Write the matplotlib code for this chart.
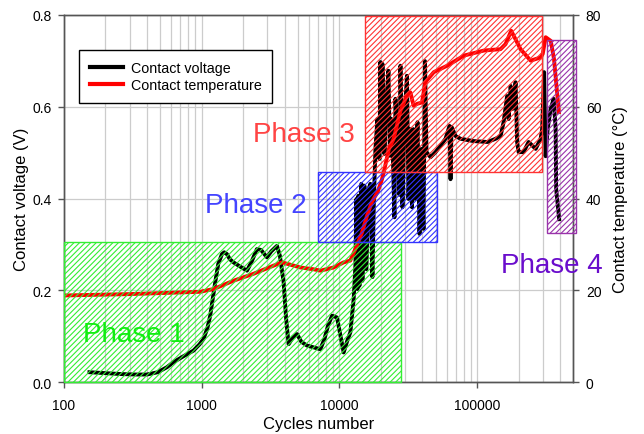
import numpy as np
import matplotlib
matplotlib.use('Agg')
import matplotlib.pyplot as plt
from matplotlib.patches import Rectangle

plt.rcParams['font.family'] = ['Liberation Sans', 'DejaVu Sans']
plt.rcParams['hatch.linewidth'] = 0.8

# contact voltage (V) vs cycles
volt_cycles = [153, 200, 260, 330, 400, 480, 560, 624, 740, 871, 960, 1030, 1100, 1153, 1200,
               1254, 1320, 1403, 1460, 1525, 1600, 1703, 1900, 2133, 2300, 2518, 2700, 2978,
               3200, 3524, 3700, 3936, 4100, 4278, 4600, 4920, 5300, 5821, 6500, 7278, 7800,
               8300, 8851, 9615, 10200, 10740, 11400, 12020, 12300, 12700,
               13070, 13290, 13520, 13750, 13980, 14450, 14700, 15190, 15720, 16250, 16800,
               17380, 17820, 18270, 18890, 19540, 19870, 20210, 20550, 21250, 21970, 22720,
               23300, 23890, 24490, 25120, 25540, 26410, 27310, 27770, 28720, 29700, 30970,
               31760, 32840, 33680, 34530, 35710, 36930, 38190, 39490, 40830, 41870, 42930,
               45910, 49920, 54290, 59020, 63100, 64170, 65260, 69790, 75860, 94290, 119260,
               136280, 148240, 155850, 165300, 169500, 175300, 181200, 190500, 195400, 200400,
               217800, 236800, 266400, 289600, 296900, 307000, 314900, 325600, 342400, 360100,
               372300, 375400, 394800]
volt_values = [0.022, 0.020, 0.018, 0.017, 0.017, 0.022, 0.033, 0.044, 0.057, 0.069, 0.082,
               0.094, 0.118, 0.145, 0.180, 0.218, 0.258, 0.279, 0.283, 0.279, 0.268, 0.261,
               0.252, 0.243, 0.262, 0.290, 0.288, 0.272, 0.285, 0.297, 0.275, 0.218, 0.140,
               0.083, 0.098, 0.105, 0.088, 0.080, 0.076, 0.072, 0.095, 0.125, 0.145, 0.141,
               0.100, 0.065, 0.090, 0.109, 0.140, 0.181,
               0.253, 0.399, 0.203, 0.406, 0.210, 0.432, 0.221, 0.428, 0.246, 0.420, 0.432,
               0.229, 0.399, 0.508, 0.573, 0.486, 0.697, 0.508, 0.693, 0.497, 0.617, 0.678,
               0.493, 0.573, 0.486, 0.359, 0.617, 0.530, 0.408, 0.689, 0.381, 0.573, 0.667,
               0.399, 0.551, 0.381, 0.551, 0.399, 0.566, 0.323, 0.508, 0.334, 0.699, 0.501,
               0.490, 0.501, 0.515, 0.530, 0.558, 0.442, 0.556, 0.536, 0.530, 0.525, 0.523,
               0.530, 0.536, 0.566, 0.623, 0.573, 0.645, 0.595, 0.653, 0.523, 0.501,
               0.501, 0.523, 0.508, 0.530, 0.551, 0.675, 0.492, 0.551, 0.595, 0.617,
               0.551, 0.421, 0.355]

# contact temperature (°C) vs cycles
temp_cycles = [100, 300, 970, 1220, 1700, 2370, 3330, 3830, 4400, 5200, 6500, 7280, 9100,
               10740, 12000, 13070, 14600, 15900, 17200, 19000, 20400, 21000, 22900, 24800,
               27700, 30900, 32800, 34600, 36700, 39800, 42100, 48500, 60700, 80300, 112000,
               148000, 161000, 177000, 207000, 245000, 290000, 300000, 315000, 343000,
               362000, 393000]
temp_values = [18.9, 19.2, 19.7, 20.3, 22.1, 23.6, 25.4, 26.1, 25.6, 25.0, 24.6, 24.3, 25.0,
               26.1, 26.5, 29.0, 32.6, 36.3, 39.2, 41.5, 44.2, 45.7, 50.8, 53.0, 59.0, 62.4,
               63.1, 60.2, 60.6, 60.9, 65.3, 67.5, 68.9, 71.1, 72.2, 72.5, 73.6, 76.5, 72.5,
               70.0, 70.7, 71.5, 75.1, 74.3, 70.4, 58.8]

phase_names = ['Phase 1', 'Phase 2', 'Phase 3', 'Phase 4']
phase_x0 = [100, 6950, 15300, 323000]
phase_x1 = [28000, 51300, 298000, 522000]
phase_y0 = [0.0, 0.306, 0.458, 0.326]
phase_y1 = [0.306, 0.458, 0.797, 0.746]
phase_edge = ['#33ee33', '#3333ff', '#ff3333', '#9933aa']
phase_txt = ['#11ee11', '#4444ff', '#ff4444', '#6a0dcc']
phase_pos = [(0.037, 0.113), (0.277, 0.463), (0.371, 0.657), (0.859, 0.300)]

fig = plt.figure(figsize=(6.44, 4.35), dpi=100)
ax = fig.add_axes([0.0994, 0.1188, 0.7908, 0.8451])
ax2 = ax.twinx()

ax.set_xscale('log')
ax.set_xlim(100, 5e5)
ax.set_ylim(0, 0.8)
ax2.set_ylim(0, 80)
ax.set_yticks([0, 0.2, 0.4, 0.6, 0.8])
ax.set_yticklabels(['0.0', '0.2', '0.4', '0.6', '0.8'])
ax2.set_yticks([0, 20, 40, 60, 80])
ax.set_xticks([100, 1000, 10000, 100000])
ax.set_xticklabels(['100', '1000', '10000', '100000'])

ax.grid(True, which='both', axis='x', color='#cccccc', lw=0.9)
ax.grid(True, which='major', axis='y', color='#cccccc', lw=0.9)
ax.set_axisbelow(True)

lv, = ax.plot(volt_cycles, volt_values, color='black', lw=2.8, solid_joinstyle='round',
              label='Contact voltage', zorder=3)
lt, = ax2.plot(temp_cycles, temp_values, color='red', lw=2.8, solid_joinstyle='round',
               label='Contact temperature', zorder=3)

for i in range(len(phase_names)):
    r = Rectangle((phase_x0[i], phase_y0[i]), phase_x1[i] - phase_x0[i],
                  phase_y1[i] - phase_y0[i], transform=ax.transData, fill=False,
                  hatch='//////', edgecolor=phase_edge[i], lw=1, zorder=5, clip_on=False)
    ax2.add_patch(r)
    ax2.text(phase_pos[i][0], phase_pos[i][1], phase_names[i], transform=ax.transAxes,
             color=phase_txt[i], fontsize=20, ha='left', va='baseline', zorder=6)

for a in (ax, ax2):
    for s in a.spines.values():
        s.set_color('#555555')
        s.set_linewidth(1)
ax.tick_params(which='major', direction='out', length=4, width=1, color='#555555',
               labelsize=10, pad=4.5)
ax.tick_params(axis='x', which='major', pad=7)
ax.tick_params(which='minor', length=0)
ax2.tick_params(direction='out', length=4, width=1, color='#555555', labelsize=10, pad=5)

ax.set_xlabel('Cycles number', fontsize=12, labelpad=3)
ax.set_ylabel('Contact voltage (V)', fontsize=12, labelpad=3)
ax2.set_ylabel('Contact temperature (°C)', fontsize=12, labelpad=8)

leg = ax2.legend(handles=[lv, lt], loc='upper left', bbox_to_anchor=(0.0295, 0.904),
                 borderaxespad=0, fontsize=10.3, fancybox=False, framealpha=1,
                 edgecolor='black', handlelength=2.3, handletextpad=0.57,
                 labelspacing=0.25, borderpad=0.75)
leg.get_frame().set_linewidth(1)
for h in leg.legend_handles:
    h.set_linewidth(3)
leg.set_zorder(10)

fig.savefig('out.png', dpi=100)
